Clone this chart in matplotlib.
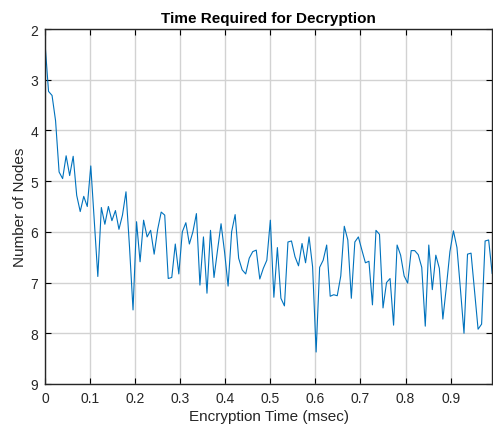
import numpy as np
import matplotlib
matplotlib.use("Agg")
import matplotlib.pyplot as plt

plt.rcParams['font.family'] = ['Liberation Sans', 'DejaVu Sans']

n_points = 128
x_step = 1.0 / 128
nodes = [
    2.28, 3.23, 3.31, 3.81, 4.82, 4.95, 4.50, 4.89, 4.51, 5.28,
    5.60, 5.30, 5.50, 4.70, 5.80, 6.88, 5.52, 5.85, 5.50, 5.78,
    5.58, 5.95, 5.67, 5.21, 6.30, 7.54, 5.80, 6.59, 5.77, 6.10,
    5.97, 6.44, 5.95, 5.61, 5.67, 6.92, 6.90, 6.24, 6.83, 6.00,
    5.82, 6.24, 6.00, 5.64, 7.05, 6.10, 7.21, 5.97, 6.90, 6.36,
    5.84, 6.40, 7.07, 6.00, 5.66, 6.52, 6.75, 6.83, 6.52, 6.39,
    6.36, 6.93, 6.72, 6.56, 5.77, 7.29, 6.31, 7.31, 7.46, 6.20,
    6.18, 6.49, 6.67, 6.23, 6.61, 6.10, 6.69, 8.37, 6.70, 6.56,
    6.26, 7.27, 7.24, 7.26, 6.87, 5.89, 6.16, 7.31, 6.20, 6.10,
    6.36, 6.61, 6.58, 7.44, 5.97, 6.05, 7.50, 7.00, 6.92, 7.84,
    6.26, 6.46, 6.87, 7.01, 6.37, 6.37, 6.45, 6.70, 7.86, 6.26,
    7.14, 6.46, 6.72, 7.72, 7.08, 6.39, 5.98, 6.31, 7.14, 8.00,
    6.44, 6.42, 7.16, 7.92, 7.82, 6.18, 6.16, 6.82,
]
enc_time = np.arange(n_points) * x_step

x_ticks = [0, 0.1, 0.2, 0.3, 0.4, 0.5, 0.6, 0.7, 0.8, 0.9]
x_tick_labels = ['0', '0.1', '0.2', '0.3', '0.4', '0.5', '0.6', '0.7', '0.8', '0.9']
y_ticks = [2, 3, 4, 5, 6, 7, 8, 9]

fig = plt.figure(figsize=(4.93, 4.35), dpi=100)
ax = fig.add_axes([0.0913, 0.115, 0.907, 0.816])

ax.plot(enc_time, nodes, color='#0072BD', linewidth=0.8)

ax.set_xlim(0, enc_time[-1])
ax.set_ylim(9, 2)
ax.set_xticks(x_ticks)
ax.set_xticklabels(x_tick_labels)
ax.set_yticks(y_ticks)

ax.grid(True, color='#d2d2d2', linewidth=1.0)
ax.set_axisbelow(True)
ax.tick_params(direction='in', length=4, width=0.8, top=True, right=True,
               labelsize=10, pad=5)
ax.tick_params(axis='both', colors='black', labelcolor='#262626')
for s in ax.spines.values():
    s.set_linewidth(1.0)
    s.set_color('#262626')

ax.set_title('Time Required for Decryption', fontsize=11, fontweight='bold', pad=5)
ax.set_xlabel('Encryption Time (msec)', fontsize=11, color='#262626', labelpad=3)
ax.set_ylabel('Number of Nodes', fontsize=11, color='#262626', labelpad=2)

fig.savefig('out.png', dpi=100)
